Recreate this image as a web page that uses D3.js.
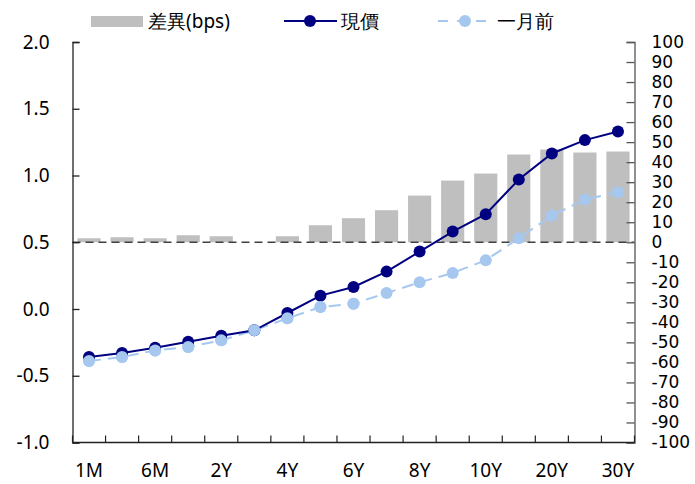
<!DOCTYPE html>
<html><head><meta charset="utf-8">
<script src="https://cdn.jsdelivr.net/npm/d3@7"></script>
<style>body{margin:0;background:#fff;} svg{display:block;}</style>
</head><body>
<svg id="chart" width="695" height="484"></svg>
<script>
const categories = ["1M","3M","6M","1Y","2Y","3Y","4Y","5Y","6Y","7Y","8Y","9Y","10Y","15Y","20Y","25Y","30Y"];
const tickLabels = ["1M","6M","2Y","4Y","6Y","8Y","10Y","20Y","30Y"];
const current = [-0.36,-0.33,-0.29,-0.245,-0.20,-0.16,-0.03,0.10,0.165,0.28,0.43,0.58,0.71,0.97,1.165,1.265,1.33];
const monthAgo = [-0.39,-0.36,-0.31,-0.285,-0.235,-0.16,-0.07,0.015,0.04,0.12,0.20,0.27,0.365,0.53,0.70,0.82,0.875];
const diffBps = [2,2.5,2,3.5,3,0,3,8.5,12,16,23.3,30.8,34.3,43.8,46.3,44.8,45.3];
const leftTicks = [-1.0,-0.5,0.0,0.5,1.0,1.5,2.0];
const rightTicks = d3.range(-100,101,10);
const seriesNames = ["差異(bps)","現價","一月前"];

const svg = d3.select("#chart");
const font = "'Noto Sans','DejaVu Sans',sans-serif";
const L = 72.5, R = 634.5, T = 42, B = 442.5;
const dark = "#000080", light = "#a6c8ef", barC = "#bfbfbf";

const x = d3.scaleBand().domain(categories).range([L,R]).paddingInner(0.3).paddingOuter(0.15);
const yL = d3.scaleLinear().domain([-1,2]).range([B,T]);
const yR = d3.scaleLinear().domain([-100,100]).range([B,T]);
const cx = d => x(d) + x.bandwidth()/2;

// bars
svg.append("g").selectAll("rect").data(categories).join("rect")
  .attr("x", d => x(d)).attr("width", x.bandwidth())
  .attr("y", (d,i) => yR(Math.max(0,diffBps[i])))
  .attr("height", (d,i) => Math.abs(yR(diffBps[i]) - yR(0)))
  .attr("fill", barC);

// zero dashed line
svg.append("line").attr("x1",L).attr("x2",R).attr("y1",yR(0)).attr("y2",yR(0))
  .attr("stroke","#404040").attr("stroke-width",1.3).attr("stroke-dasharray","8,5");

// axes
const axL = svg.append("g").attr("transform",`translate(${L},0)`)
  .call(d3.axisLeft(yL).tickValues(leftTicks).tickFormat(d => d.toFixed(1)).tickSize(-7).tickPadding(23));
axL.selectAll("text").attr("font-size",19).attr("font-family",font).attr("fill","#000");
axL.selectAll("line,path").attr("stroke","#222").attr("stroke-width",1.3);

const axR = svg.append("g").attr("transform",`translate(${R},0)`)
  .call(d3.axisRight(yR).tickValues(rightTicks).tickFormat(d => String(d)).tickSize(-8).tickPadding(17));
axR.selectAll("text").attr("font-size",17).attr("font-family","'DejaVu Sans',sans-serif").attr("fill","#000");
axR.selectAll("line,path").attr("stroke","#555").attr("stroke-width",1.3);

// x axis
const bottom = svg.append("g");
bottom.append("line").attr("x1",L).attr("x2",R).attr("y1",B).attr("y2",B).attr("stroke","#222").attr("stroke-width",1.5);
const bounds = categories.map(c => x(c) - x.step()*x.paddingInner()/2).concat([R]);
bottom.selectAll("line.tk").data(bounds).join("line").attr("class","tk")
  .attr("x1",d=>d).attr("x2",d=>d).attr("y1",B).attr("y2",B-7).attr("stroke","#222").attr("stroke-width",1.2);
bottom.selectAll("text").data(tickLabels).join("text")
  .attr("x", d => cx(d)).attr("y", 477).attr("text-anchor","middle")
  .attr("font-size",19).attr("font-family",font).text(d=>d);

// lines
const lineGen = arr => d3.line().x((d,i)=>cx(categories[i])).y(d=>yL(d))(arr);
svg.append("path").attr("d",lineGen(monthAgo)).attr("fill","none").attr("stroke",light)
  .attr("stroke-width",2).attr("stroke-dasharray","12,7");
svg.append("g").selectAll("circle").data(monthAgo).join("circle")
  .attr("cx",(d,i)=>cx(categories[i])).attr("cy",d=>yL(d)).attr("r",6).attr("fill",light);
svg.append("path").attr("d",lineGen(current)).attr("fill","none").attr("stroke",dark).attr("stroke-width",2);
svg.append("g").selectAll("circle").data(current).join("circle")
  .attr("cx",(d,i)=>cx(categories[i])).attr("cy",d=>yL(d)).attr("r",6).attr("fill",dark);
svg.append("g").selectAll("circle").data(monthAgo).join("circle")
  .attr("cx",(d,i)=>cx(categories[i])).attr("cy",d=>yL(d)).attr("r",6).attr("fill",light)
  .attr("opacity",(d,i)=> i<9 ? 1 : 0);

// legend
const lg = svg.append("g").attr("font-family",font).attr("font-size",19);
lg.append("rect").attr("x",91).attr("y",16).attr("width",52).attr("height",11).attr("fill",barC);
lg.append("text").attr("x",148).attr("y",28).text(seriesNames[0]);
lg.append("line").attr("x1",284).attr("x2",337).attr("y1",21).attr("y2",21).attr("stroke",dark).attr("stroke-width",2);
lg.append("circle").attr("cx",310).attr("cy",21).attr("r",6).attr("fill",dark);
lg.append("text").attr("x",341).attr("y",28).text(seriesNames[1]);
lg.append("line").attr("x1",438).attr("x2",489).attr("y1",21).attr("y2",21).attr("stroke",light).attr("stroke-width",2).attr("stroke-dasharray","10,9");
lg.append("circle").attr("cx",465).attr("cy",21).attr("r",6).attr("fill",light);
lg.append("text").attr("x",497).attr("y",28).text(seriesNames[2]);
</script>
</body></html>
